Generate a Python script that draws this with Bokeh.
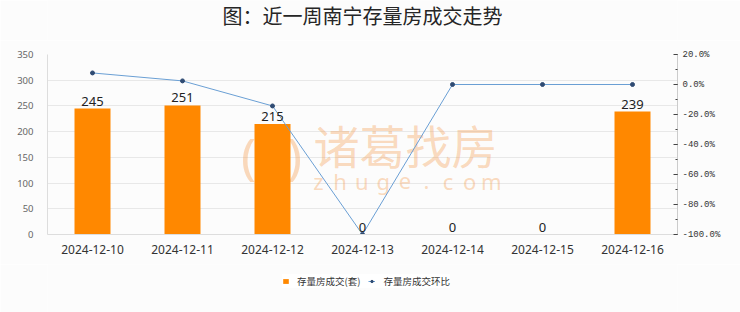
from bokeh.plotting import figure
from bokeh.layouts import column
from bokeh.models import (FactorRange, Range1d, LinearAxis, SingleIntervalTicker,
                          PrintfTickFormatter, ColumnDataSource, LabelSet, Label,
                          Legend, LegendItem)
from bokeh.core.properties import value
from bokeh.embed import file_html
from bokeh.resources import INLINE

dates = ["2024-12-10", "2024-12-11", "2024-12-12", "2024-12-13",
         "2024-12-14", "2024-12-15", "2024-12-16"]
deals = [245, 251, 215, 0, 0, 0, 239]
mom_pct = [7.7, 2.4, -14.3, -100.0, 0.0, 0.0, 0.0]

title = "图：近一周南宁存量房成交走势"
bar_name = "存量房成交(套)"
line_name = "存量房成交环比"

BG = "#fcfcfc"
ORANGE = "#ff8800"
LINE_C = "#6a9fd4"
DOT_C = "#2f4b73"
CJK = "Noto Sans CJK SC"


def blank(h):
    f = figure(width=740, height=h, x_range=Range1d(0, 740), y_range=Range1d(0, h),
               output_backend="svg", toolbar_location=None, min_border=0,
               x_axis_location=None, y_axis_location=None,
               background_fill_color=BG, border_fill_color=BG,
               outline_line_color=None)
    f.grid.visible = False
    return f


# ---- header with title
head = blank(40)
head.add_layout(Label(x=370, y=25, text=title, text_font=CJK, text_font_size="20px",
                      text_color="#262626", text_align="center",
                      text_baseline="middle"))

# ---- main chart
p = figure(width=740, height=224, x_range=FactorRange(*dates, range_padding=0),
           y_range=Range1d(0, 350), output_backend="svg", toolbar_location=None,
           min_border_left=47, min_border_right=63, min_border_top=14,
           min_border_bottom=30, background_fill_color=BG, border_fill_color=BG,
           outline_line_color=None)
p.extra_y_ranges = {"pct": Range1d(-100, 20)}

ya = p.yaxis[0]
ya.ticker = SingleIntervalTicker(interval=50, num_minor_ticks=0)
ya.major_tick_line_color = None
ya.minor_tick_line_color = None
ya.axis_line_color = "#dddddd"
ya.major_label_text_color = "#666666"
ya.major_label_text_font = "Noto Sans"
ya.major_label_text_font_size = "9.5px"
ya.major_label_standoff = 8

xa = p.xaxis[0]
xa.major_tick_line_color = None
xa.minor_tick_line_color = None
xa.axis_line_color = "#dddddd"
xa.major_label_text_color = "#333333"
xa.major_label_text_font = "Noto Sans"
xa.major_label_text_font_size = "12px"
xa.major_label_standoff = 4

p.xgrid.grid_line_color = None
p.ygrid.grid_line_color = "#e8e8e8"

ra = LinearAxis(y_range_name="pct",
                ticker=SingleIntervalTicker(interval=20, num_minor_ticks=2),
                formatter=PrintfTickFormatter(format="%.1f%%"))
ra.axis_line_color = "#cccccc"
ra.major_tick_in = 4
ra.major_tick_out = 0
ra.minor_tick_in = 2
ra.minor_tick_out = 0
ra.major_tick_line_color = "#444444"
ra.minor_tick_line_color = "#444444"
ra.major_label_text_color = "#333333"
ra.major_label_text_font = "Liberation Mono"
ra.major_label_text_font_size = "9px"
ra.major_label_standoff = 5
p.add_layout(ra, "right")

# watermark
wm_color = "#f5a25a"
p.add_layout(Label(x=358, y=91, x_units="screen", y_units="screen", text="诸葛找房",
                   text_font=CJK, text_font_size="46px", text_color=wm_color,
                   text_alpha=0.4, text_align="center", text_baseline="middle",
                   level="underlay"))
wm_sub = "zhuge.com"
for i, ch in enumerate(wm_sub):
    p.add_layout(Label(x=271 + i * 21.6, y=54, x_units="screen", y_units="screen",
                       text=ch, text_font="Noto Sans", text_font_size="22px",
                       text_color=wm_color, text_alpha=0.4, text_align="center",
                       text_baseline="middle", level="underlay"))
for ch, xx in (("(", 201), (")", 247)):
    p.add_layout(Label(x=xx, y=80, x_units="screen", y_units="screen", text=ch,
                       text_font="Noto Sans", text_font_size="50px",
                       text_color=wm_color, text_alpha=0.4, text_align="center",
                       text_baseline="middle", level="underlay"))

src = ColumnDataSource(dict(d=dates, v=deals, t=[str(v) for v in deals], m=mom_pct))
p.vbar(x="d", top="v", width=0.4, source=src, color=ORANGE, line_color=None)
p.add_layout(LabelSet(x="d", y="v", text="t", source=src, y_offset=3,
                      text_align="center", text_baseline="bottom",
                      text_font=value("Noto Sans"), text_font_size=value("13px"),
                      text_color="#222222"))
p.line(x="d", y="m", source=src, y_range_name="pct", line_color=LINE_C, line_width=1)
p.scatter(x="d", y="m", source=src, y_range_name="pct", size=4, color=DOT_C)

# ---- legend strip (proxy renderers placed off-canvas, only their legend swatches show)
foot = blank(48)
lb = foot.vbar(x=[-500], top=[-500], width=1, color=ORANGE, line_color=None)
ll = foot.line(x=[-500, -490], y=[-500, -500], line_color=LINE_C, line_width=1)
lp = foot.scatter(x=[-500], y=[-500], size=4, color=DOT_C)
legend = Legend(items=[LegendItem(label=bar_name, renderers=[lb]),
                       LegendItem(label=line_name, renderers=[ll, lp])],
                orientation="horizontal", location=(235, 24),
                background_fill_color="#ffffff", background_fill_alpha=1,
                border_line_color=None, glyph_width=7, glyph_height=6,
                label_standoff=8, spacing=8, padding=5, label_height=10,
                label_text_font=CJK, label_text_font_size="9.5px",
                label_text_color="#333333", margin=0)
foot.add_layout(legend, "center")

layout = column(head, p, foot, spacing=0)
open("out.html", "w").write(file_html(layout, INLINE))
